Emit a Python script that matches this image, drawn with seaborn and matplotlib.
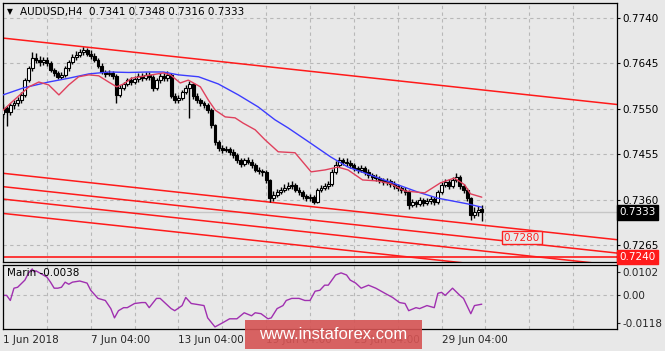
import numpy as np
import pandas as pd
import matplotlib
matplotlib.use("Agg")
import matplotlib.pyplot as plt
import matplotlib.patches as mpatches
import seaborn as sns

# ---------------- data ----------------
opens = [0.7540, 0.7552, 0.7543, 0.7558, 0.7562, 0.7568, 0.7579, 0.7610, 0.7635, 0.7656,
         0.7652, 0.7648, 0.7652, 0.7646, 0.7631, 0.7625, 0.7617, 0.7621, 0.7635, 0.7648,
         0.7658, 0.7663, 0.7669, 0.7673, 0.7665, 0.7661, 0.7652, 0.7640, 0.7627, 0.7623,
         0.7625, 0.7619, 0.7579, 0.7594, 0.7602, 0.7610, 0.7606, 0.7612, 0.7619, 0.7614,
         0.7621, 0.7617, 0.7594, 0.7610, 0.7619, 0.7614, 0.7621, 0.7577, 0.7568, 0.7573,
         0.7585, 0.7594, 0.7602, 0.7577, 0.7568, 0.7562, 0.7558, 0.7548, 0.7516, 0.7480,
         0.7468, 0.7464, 0.7466, 0.7460, 0.7453, 0.7443, 0.7434, 0.7443, 0.7439, 0.7432,
         0.7422, 0.7420, 0.7418, 0.7401, 0.7363, 0.7370, 0.7376, 0.7380, 0.7384, 0.7388,
         0.7391, 0.7380, 0.7376, 0.7367, 0.7363, 0.7365, 0.7355, 0.7380, 0.7384, 0.7388,
         0.7393, 0.7418, 0.7432, 0.7443, 0.7439, 0.7437, 0.7432, 0.7426, 0.7422, 0.7426,
         0.7418, 0.7411, 0.7407, 0.7405, 0.7401, 0.7397, 0.7399, 0.7393, 0.7388, 0.7384,
         0.7380, 0.7376, 0.7349, 0.7355, 0.7351, 0.7359, 0.7353, 0.7357, 0.7361, 0.7355,
         0.7376, 0.7391, 0.7397, 0.7388, 0.7401, 0.7407, 0.7388, 0.7380, 0.7363, 0.7328,
         0.7334, 0.7341]
highs = [0.7560, 0.7556, 0.7563, 0.7568, 0.7574, 0.7585, 0.7615, 0.7640, 0.7668, 0.7666,
         0.7660, 0.7659, 0.7658, 0.7650, 0.7636, 0.7630, 0.7627, 0.7640, 0.7653, 0.7665,
         0.7670, 0.7676, 0.7680, 0.7678, 0.7672, 0.7666, 0.7656, 0.7645, 0.7632, 0.7631,
         0.7629, 0.7622, 0.7599, 0.7607, 0.7615, 0.7616, 0.7618, 0.7625, 0.7624, 0.7628,
         0.7627, 0.7620, 0.7615, 0.7625, 0.7627, 0.7630, 0.7624, 0.7582, 0.7579, 0.7590,
         0.7599, 0.7608, 0.7605, 0.7582, 0.7573, 0.7567, 0.7562, 0.7551, 0.7519, 0.7485,
         0.7474, 0.7472, 0.7471, 0.7465, 0.7457, 0.7447, 0.7448, 0.7450, 0.7444, 0.7436,
         0.7428, 0.7425, 0.7422, 0.7404, 0.7377, 0.7383, 0.7386, 0.7392, 0.7396, 0.7398,
         0.7395, 0.7386, 0.7380, 0.7372, 0.7371, 0.7369, 0.7385, 0.7390, 0.7394, 0.7399,
         0.7424, 0.7440, 0.7450, 0.7448, 0.7446, 0.7442, 0.7437, 0.7431, 0.7432, 0.7430,
         0.7423, 0.7416, 0.7413, 0.7410, 0.7406, 0.7405, 0.7404, 0.7398, 0.7393, 0.7389,
         0.7386, 0.7380, 0.7362, 0.7360, 0.7365, 0.7363, 0.7363, 0.7367, 0.7366, 0.7381,
         0.7397, 0.7404, 0.7402, 0.7408, 0.7416, 0.7411, 0.7392, 0.7384, 0.7366, 0.7345,
         0.7346, 0.7348]
lows = [0.7530, 0.7515, 0.7538, 0.7550, 0.7556, 0.7563, 0.7575, 0.7606, 0.7630, 0.7645,
        0.7640, 0.7642, 0.7640, 0.7626, 0.7619, 0.7612, 0.7612, 0.7617, 0.7630, 0.7643,
        0.7652, 0.7658, 0.7662, 0.7660, 0.7655, 0.7647, 0.7635, 0.7622, 0.7617, 0.7618,
        0.7612, 0.7562, 0.7574, 0.7589, 0.7597, 0.7600, 0.7601, 0.7607, 0.7609, 0.7610,
        0.7611, 0.7588, 0.7590, 0.7605, 0.7609, 0.7608, 0.7572, 0.7562, 0.7563, 0.7569,
        0.7580, 0.7531, 0.7570, 0.7562, 0.7556, 0.7551, 0.7541, 0.7510, 0.7474, 0.7462,
        0.7458, 0.7459, 0.7454, 0.7448, 0.7437, 0.7428, 0.7430, 0.7434, 0.7427, 0.7417,
        0.7414, 0.7410, 0.7395, 0.7355, 0.7358, 0.7365, 0.7371, 0.7375, 0.7379, 0.7383,
        0.7375, 0.7370, 0.7362, 0.7357, 0.7358, 0.7350, 0.7352, 0.7375, 0.7379, 0.7383,
        0.7389, 0.7414, 0.7428, 0.7433, 0.7431, 0.7426, 0.7420, 0.7416, 0.7417, 0.7412,
        0.7405, 0.7401, 0.7399, 0.7395, 0.7391, 0.7391, 0.7387, 0.7382, 0.7378, 0.7373,
        0.7369, 0.7340, 0.7344, 0.7344, 0.7346, 0.7347, 0.7348, 0.7351, 0.7349, 0.7351,
        0.7371, 0.7386, 0.7383, 0.7384, 0.7396, 0.7383, 0.7374, 0.7357, 0.7317, 0.7322,
        0.7326, 0.7316]
closes = [0.7552, 0.7543, 0.7558, 0.7562, 0.7568, 0.7579, 0.7610, 0.7635, 0.7656, 0.7652,
          0.7648, 0.7652, 0.7646, 0.7631, 0.7625, 0.7617, 0.7621, 0.7635, 0.7648, 0.7658,
          0.7663, 0.7669, 0.7673, 0.7665, 0.7661, 0.7652, 0.7640, 0.7627, 0.7623, 0.7625,
          0.7619, 0.7579, 0.7594, 0.7602, 0.7610, 0.7606, 0.7612, 0.7619, 0.7614, 0.7621,
          0.7617, 0.7594, 0.7610, 0.7619, 0.7614, 0.7621, 0.7577, 0.7568, 0.7573, 0.7585,
          0.7594, 0.7602, 0.7577, 0.7568, 0.7562, 0.7558, 0.7548, 0.7516, 0.7480, 0.7468,
          0.7464, 0.7466, 0.7460, 0.7453, 0.7443, 0.7434, 0.7443, 0.7439, 0.7432, 0.7422,
          0.7420, 0.7418, 0.7401, 0.7363, 0.7370, 0.7376, 0.7380, 0.7384, 0.7388, 0.7391,
          0.7380, 0.7376, 0.7367, 0.7363, 0.7365, 0.7355, 0.7380, 0.7384, 0.7388, 0.7393,
          0.7418, 0.7432, 0.7443, 0.7439, 0.7437, 0.7432, 0.7426, 0.7422, 0.7426, 0.7418,
          0.7411, 0.7407, 0.7405, 0.7401, 0.7397, 0.7399, 0.7393, 0.7388, 0.7384, 0.7380,
          0.7376, 0.7349, 0.7355, 0.7351, 0.7359, 0.7353, 0.7357, 0.7361, 0.7355, 0.7376,
          0.7391, 0.7397, 0.7388, 0.7401, 0.7407, 0.7388, 0.7380, 0.7363, 0.7328, 0.7334,
          0.7338, 0.7333]

ma_slow_bars = [0, 5.7, 12.5, 18, 23.5, 29, 34.4, 39.8, 43.9, 48, 53.5, 58.9, 64.4,
                69.8, 74.4, 78, 83.4, 89.7, 94.4, 100.6, 108, 113.4, 118.9, 127.1, 131]
ma_slow_vals = [0.7579, 0.7594, 0.7606, 0.7614, 0.7623, 0.7627, 0.7626, 0.7627, 0.7627,
                0.7621, 0.7617, 0.7602, 0.7579, 0.7554, 0.7527, 0.7510, 0.7482, 0.7449,
                0.7428, 0.7411, 0.7391, 0.7376, 0.7363, 0.7351, 0.7344]

ma_fast_bars = [0, 3, 7.1, 9.8, 12.5, 15.3, 18, 20.7, 23.5, 26.2, 28.9, 31.1, 33, 35.2,
                40.6, 43.9, 45.8, 48.5, 50.7, 54, 56.2, 58.1, 60.8, 63.5, 65.7, 69, 71.7,
                75.3, 79.9, 84.3, 88.1, 91.6, 94.4, 98.4, 102.5, 106.1, 109.9, 115.4,
                119.7, 123.5, 126.3, 127.9, 131]
ma_fast_vals = [0.7547, 0.7568, 0.7596, 0.7606, 0.7600, 0.7579, 0.7600, 0.7617, 0.7621,
                0.7619, 0.7606, 0.7596, 0.7602, 0.7614, 0.7621, 0.7625, 0.7621, 0.7604,
                0.7610, 0.7596, 0.7568, 0.7547, 0.7533, 0.7531, 0.7520, 0.7506, 0.7485,
                0.7460, 0.7458, 0.7418, 0.7422, 0.7428, 0.7422, 0.7401, 0.7399, 0.7393,
                0.7378, 0.7374, 0.7395, 0.7405, 0.7391, 0.7372, 0.7365]

osc_bars = [0, 1, 2, 3, 4, 6, 7, 8, 8.5, 9, 10, 12, 13, 14, 15, 16, 17, 18, 19, 21,
            23, 24, 26, 28, 29.5, 30.5, 31.6, 33, 34, 36, 38, 39, 40, 42, 43, 46, 47, 49,
            50, 51.5, 53.5, 55, 56, 58, 60, 62, 64, 66, 68, 69, 70.6, 72.5, 73.4, 75,
            76.6, 77.5, 79, 81, 82.6, 84, 85.4, 86.7, 88, 89, 91, 92.5, 94, 95, 96.5, 98,
            100, 102, 104.5, 106.6, 108.5, 110, 111, 113, 114, 116, 118, 119, 120, 121,
            123, 125, 126, 128, 129, 131]
osc_vals = [0.0, 0.0, -0.0022, 0.0031, 0.0035, 0.0066, 0.0097, 0.0114, 0.0101, 0.0106,
            0.0097, 0.0079, 0.0057, 0.0031, 0.0031, 0.0035, 0.0057, 0.0048, 0.0057, 0.0062,
            0.0053, 0.0022, -0.0013, -0.0022, -0.0057, -0.0097, -0.0066, -0.0053, -0.0053,
            -0.0035, -0.0031, -0.0031, -0.0053, -0.0013, -0.0013, -0.0057, -0.0066, -0.0044,
            -0.0009, -0.0035, -0.0040, -0.0044, -0.0097, -0.0136, -0.0119, -0.0101, -0.0101,
            -0.0075, -0.0088, -0.0075, -0.0079, -0.0101, -0.0097, -0.0057, -0.0044, -0.0022,
            -0.0013, -0.0013, -0.0022, -0.0022, 0.0018, 0.0022, 0.0044, 0.0044, 0.0088,
            0.0097, 0.0088, 0.0066, 0.0053, 0.0031, 0.0044, 0.0031, 0.0009, -0.0009,
            -0.0031, -0.0035, -0.0066, -0.0053, -0.0057, -0.0044, -0.0053, 0.0009, 0.0013,
            0.0, 0.0031, 0.0, -0.0013, -0.0079, -0.0044, -0.0038]

channel_bars = [0, 168]
channel_top = [0.7698, 0.7559]
channel_a = [0.7415, 0.7276]
channel_b = [0.7387, 0.7248]
channel_c = [0.7361, 0.7222]
channel_d = [0.7331, 0.7193]
support_level = 0.7240
target_level = 0.7280
target_bar = 137
last_price = 0.7333

price_ticks = [0.7740, 0.7645, 0.7550, 0.7455, 0.7360, 0.7265]
osc_ticks = [0.0102, 0.00, -0.0118]
osc_tick_labels = ["0.0102", "0.00", "-0.0118"]
date_tick_bars = [0, 24, 48, 72, 96, 120]
date_tick_labels = ["1 Jun 2018", "7 Jun 04:00", "13 Jun 04:00", "19 Jun 04:00",
                    "25 Jun 04:00", "29 Jun 04:00"]
grid_bars = list(range(0, 168, 12))
symbol_title = "AUDUSD,H4"
osc_name = "Marin"

# ---------------- styling ----------------
sns.set_theme(style="white")
plt.rcParams['font.family'] = ['DejaVu Sans']
BG = "#e8e8e8"
GRID = "#b8b8b8"
FS = 7.5

W, H = 665, 351
fig = plt.figure(figsize=(W / 100, H / 100), dpi=100, facecolor=BG)
ax = fig.add_axes([3 / W, 1 - 262 / H, 614 / W, 259 / H])
ax2 = fig.add_axes([3 / W, 1 - 329 / H, 614 / W, 64 / H])
XL = (0, 168)

for a in (ax, ax2):
    a.set_facecolor(BG)
    a.set_xlim(*XL)
    for s in a.spines.values():
        s.set_color("black")
        s.set_linewidth(0.9)

ax.set_ylim(0.72293, 0.77714)
ax2.set_ylim(-0.0145, 0.0131)

# grid
ax.set_xticks(grid_bars)
ax.tick_params(axis="x", length=0, labelbottom=False)
ax.set_yticks(price_ticks)
ax.set_yticklabels([f"{v:.4f}" for v in price_ticks])
ax.yaxis.tick_right()
ax.tick_params(axis="y", length=2.5, width=0.8, pad=1.5, labelsize=FS, colors="black")
ax.grid(True, color=GRID, linestyle=(0, (3, 3)), linewidth=0.8)

ax2.set_xticks(grid_bars, minor=True)
ax2.set_xticks(date_tick_bars)
ax2.set_xticklabels(date_tick_labels)
for lbl in ax2.get_xticklabels():
    lbl.set_horizontalalignment("left")
ax2.tick_params(axis="x", which="major", length=3, width=0.8, pad=1.5, labelsize=FS)
ax2.tick_params(axis="x", which="minor", length=0)
ax2.set_yticks(osc_ticks)
ax2.set_yticklabels(osc_tick_labels)
ax2.yaxis.tick_right()
ax2.tick_params(axis="y", length=2.5, width=0.8, pad=1.5, labelsize=FS)
ax2.grid(True, which="both", axis="x", color=GRID, linestyle=(0, (3, 3)), linewidth=0.8)
ax2.axhline(0, color=GRID, linestyle=(0, (3, 3)), linewidth=0.8, zorder=0)

# current price line
ax.axhline(last_price, color="#c6c6c6", lw=1.0, zorder=1)

# channel lines
for vals in (channel_top, channel_a, channel_b, channel_c, channel_d):
    sns.lineplot(x=channel_bars, y=vals, ax=ax, color="#ff1a1a", lw=1.1, zorder=2)
ax.axhline(support_level, color="#ff1a1a", lw=1.2, zorder=2)

# candles
df = pd.DataFrame({"bar": np.arange(len(closes)), "open": opens, "high": highs,
                   "low": lows, "close": closes})
up = df["close"] >= df["open"]
ax.vlines(df["bar"], df["low"], df["high"], color="black", lw=1.0, zorder=3)
ax.bar(df["bar"][up], (df["close"] - df["open"])[up] + 0.00002, bottom=df["open"][up],
       width=0.8, color="white", edgecolor="black", linewidth=0.8, zorder=4)
ax.bar(df["bar"][~up], (df["open"] - df["close"])[~up], bottom=df["close"][~up],
       width=0.8, color="black", edgecolor="black", linewidth=0.8, zorder=4)

# moving averages
sns.lineplot(x=ma_slow_bars, y=ma_slow_vals, ax=ax, color="#3c3cff", lw=1.0, zorder=5)
sns.lineplot(x=ma_fast_bars, y=ma_fast_vals, ax=ax, color="#e0405c", lw=1.0, zorder=5)

# oscillator
sns.lineplot(x=osc_bars, y=osc_vals, ax=ax2, color="#a030b0", lw=1.0)

for a in (ax, ax2):
    a.set_xlabel("")
    a.set_ylabel("")
    a.set_xlim(*XL)

# target label
ax.text(target_bar, target_level, f"{target_level:.4f}", color="#ff2020", fontsize=FS,
        ha="left", va="center", zorder=6,
        bbox=dict(boxstyle="square,pad=0.15", fc=BG, ec="#ff2020", lw=1.0))

# right-side highlighted price labels
ytr = ax.get_yaxis_transform()
ax.text(1.004, last_price, f"{last_price:.4f}", transform=ytr, color="white",
        fontsize=FS, ha="left", va="center", clip_on=False,
        bbox=dict(boxstyle="square,pad=0.2", fc="black", ec="black"))
ax.text(1.004, support_level, f"{support_level:.4f}", transform=ytr, color="white",
        fontsize=FS, ha="left", va="center", clip_on=False,
        bbox=dict(boxstyle="square,pad=0.2", fc="#ff1a1a", ec="#ff1a1a"))

# header texts
ax.text(0.006, 0.966, "\u25bc", transform=ax.transAxes, fontsize=5.5, ha="left",
        va="center", color="black")
ax.text(0.027, 0.966,
        f"{symbol_title}  {opens[-1]:.4f} {highs[-1]:.4f} {lows[-1]:.4f} {closes[-1]:.4f}",
        transform=ax.transAxes, fontsize=FS, ha="left", va="center", color="black")
ax2.text(0.006, 0.87, f"{osc_name} {osc_vals[-1]:.4f}", transform=ax2.transAxes,
         fontsize=FS, ha="left", va="center", color="black")

# watermark (covers two date labels, as in the reference)
fig.patches.append(mpatches.Rectangle((245 / W, 1 - 349 / H), 177 / W, 29 / H,
                                      transform=fig.transFigure, facecolor="#d65454",
                                      alpha=0.9, edgecolor="none", zorder=10))
fig.text(333 / W, 1 - 334.5 / H, "www.instaforex.com", color="white", fontsize=12,
         family=["Liberation Sans", "DejaVu Sans"], ha="center", va="center", zorder=11)

fig.savefig("out.png", dpi=100, facecolor=BG)
